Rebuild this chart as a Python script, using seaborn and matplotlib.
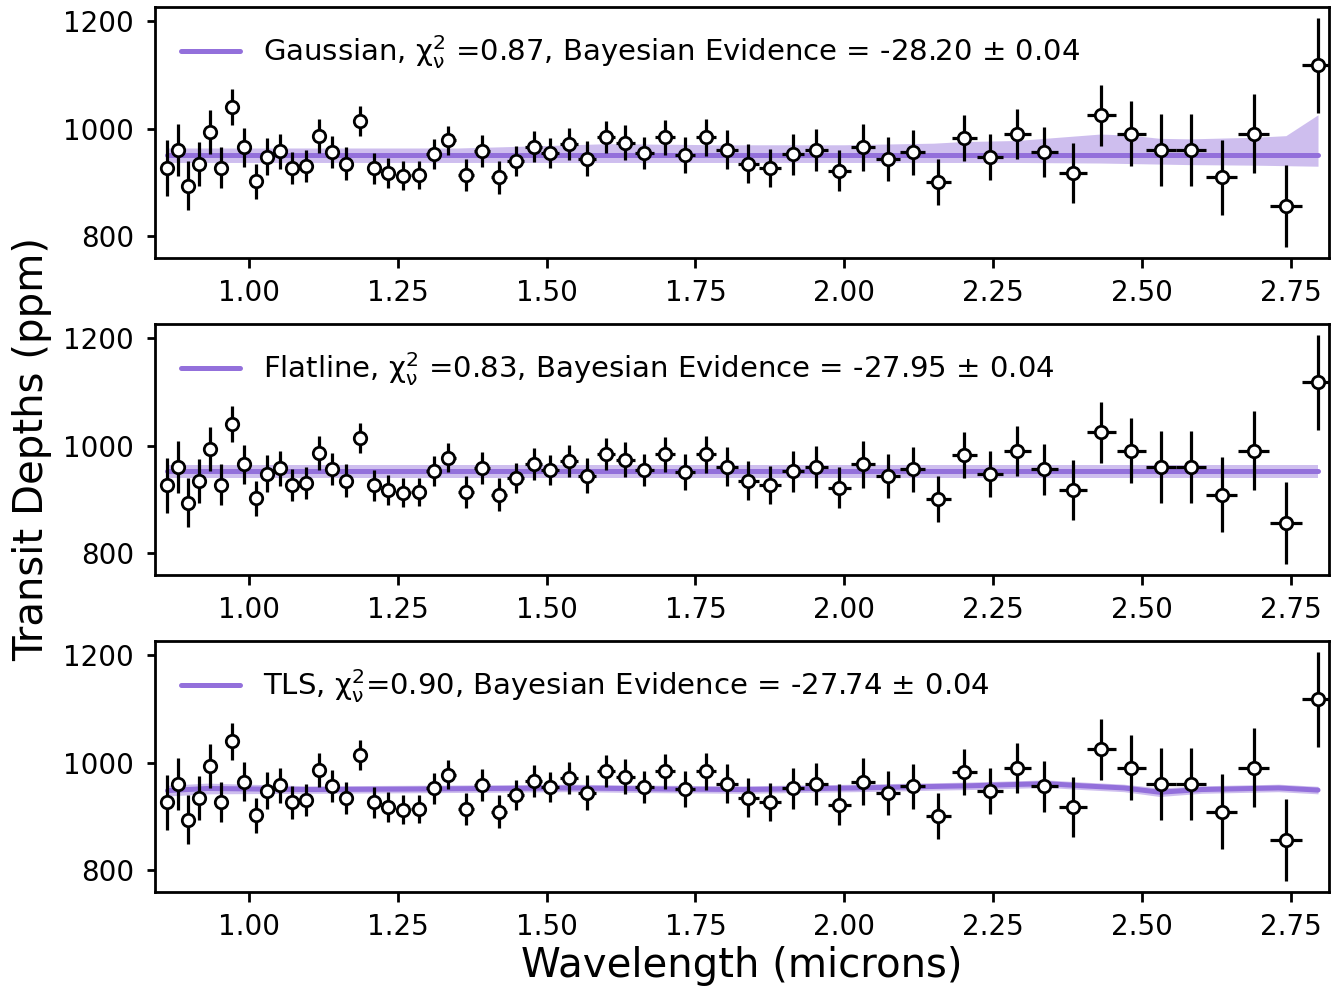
import numpy as np
import pandas as pd
import matplotlib
matplotlib.use("Agg")
import matplotlib.pyplot as plt
import seaborn as sns

# ---------------- data ----------------
wavelength = [0.863, 0.880, 0.898, 0.916, 0.934, 0.953, 0.972, 0.992, 1.012, 1.031,
              1.052, 1.073, 1.095, 1.118, 1.140, 1.163, 1.187, 1.210, 1.234, 1.259,
              1.285, 1.310, 1.335, 1.364, 1.392, 1.420, 1.448, 1.478, 1.506, 1.537,
              1.568, 1.600, 1.632, 1.664, 1.699, 1.733, 1.768, 1.803, 1.839, 1.876,
              1.914, 1.953, 1.992, 2.032, 2.073, 2.115, 2.158, 2.202, 2.245, 2.291,
              2.336, 2.384, 2.432, 2.482, 2.532, 2.582, 2.634, 2.688, 2.742, 2.796]
depth = [926, 960, 894, 935, 994, 927, 1040, 965, 902, 948,
         958, 926, 930, 986, 956, 935, 1015, 926, 917, 912,
         914, 952, 978, 914, 958, 909, 940, 966, 955, 972,
         944, 984, 974, 955, 984, 951, 984, 961, 935, 927,
         952, 960, 922, 965, 944, 956, 901, 983, 948, 990,
         956, 917, 1025, 991, 960, 960, 909, 991, 856, 1118]
depth_err = [52, 48, 45, 41, 41, 38, 34, 37, 33, 34,
             33, 30, 30, 32, 30, 30, 28, 29, 28, 27,
             26, 28, 27, 30, 30, 30, 28, 29, 28, 30,
             33, 30, 33, 30, 33, 33, 34, 36, 36, 35,
             39, 39, 39, 43, 41, 42, 43, 43, 43, 47,
             47, 56, 57, 60, 67, 67, 70, 74, 76, 88]
bin_halfwidth = [0.0085, 0.0086, 0.0088, 0.0090, 0.0092, 0.0093, 0.0095, 0.0097, 0.0099, 0.0101,
                 0.0103, 0.0105, 0.0107, 0.0110, 0.0112, 0.0114, 0.0116, 0.0119, 0.0121, 0.0123,
                 0.0126, 0.0128, 0.0131, 0.0134, 0.0136, 0.0139, 0.0142, 0.0145, 0.0148, 0.0151,
                 0.0154, 0.0157, 0.0160, 0.0163, 0.0167, 0.0170, 0.0173, 0.0177, 0.0180, 0.0184,
                 0.0188, 0.0191, 0.0195, 0.0199, 0.0203, 0.0207, 0.0212, 0.0216, 0.0220, 0.0225,
                 0.0229, 0.0234, 0.0238, 0.0243, 0.0248, 0.0253, 0.0258, 0.0264, 0.0269, 0.0274]

# Gaussian model
gauss_w = [0.863, 1.35, 1.45, 1.60, 1.80, 2.00, 2.15, 2.20, 2.29, 2.43, 2.48, 2.53, 2.58, 2.69, 2.742, 2.796]
gauss_mid = [951, 951, 951, 951, 951, 951, 951, 951, 951, 951, 951, 951, 951, 951, 951, 951]
gauss_hi = [964, 964, 967, 972, 970, 970, 973, 976, 978, 990, 988, 982, 981, 984, 987, 1026]
gauss_lo = [937, 937, 937, 937, 937, 937, 937, 937, 937, 936, 935, 934, 933, 932, 931, 930]

# Flatline model
flat_w = [0.863, 2.796]
flat_mid = [952, 952]
flat_hi = [964, 964]
flat_lo = [940, 940]

# TLS model
tls_w = [0.863, 0.93, 1.10, 1.28, 1.54, 1.70, 1.83, 2.02, 2.21, 2.34, 2.40, 2.47, 2.53, 2.60, 2.73, 2.796]
tls_mid = [948, 952, 950, 951, 953, 951, 950, 953, 957, 961, 957, 953, 945, 950, 953, 949]
tls_hi = [958, 962, 957, 958, 960, 958, 957, 960, 964, 968, 964, 960, 953, 957, 960, 956]
tls_lo = [938, 942, 943, 944, 946, 944, 943, 946, 950, 954, 950, 946, 937, 943, 946, 942]

labels = [
    r"Gaussian, $\chi^2_\nu$ =0.87, Bayesian Evidence = -28.20 $\pm$ 0.04",
    r"Flatline, $\chi^2_\nu$ =0.83, Bayesian Evidence = -27.95 $\pm$ 0.04",
    r"TLS, $\chi^2_\nu$=0.90, Bayesian Evidence = -27.74 $\pm$ 0.04",
]
x_ticks = [1.00, 1.25, 1.50, 1.75, 2.00, 2.25, 2.50, 2.75]
y_ticks = [800, 1000, 1200]

# ---------------- style ----------------
sns.set_theme(style="ticks")
plt.rcParams.update({
    "font.family": ["DejaVu Sans"],
    "mathtext.default": "regular",
    "axes.edgecolor": "black",
    "axes.linewidth": 2.0,
    "xtick.color": "black",
    "ytick.color": "black",
    "xtick.major.width": 2.0,
    "ytick.major.width": 2.0,
    "xtick.major.size": 7,
    "ytick.major.size": 6,
    "xtick.major.pad": 8,
    "ytick.major.pad": 9,
    "xtick.labelsize": 20,
    "ytick.labelsize": 20,
    "text.color": "black",
    "axes.labelcolor": "black",
})

purple = "mediumpurple"

data = pd.DataFrame({"wavelength": wavelength, "depth": depth,
                     "err": depth_err, "xerr": bin_halfwidth})
models = [
    pd.DataFrame({"w": gauss_w, "mid": gauss_mid, "hi": gauss_hi, "lo": gauss_lo}),
    pd.DataFrame({"w": flat_w, "mid": flat_mid, "hi": flat_hi, "lo": flat_lo}),
    pd.DataFrame({"w": tls_w, "mid": tls_mid, "hi": tls_hi, "lo": tls_lo}),
]

fig, axes = plt.subplots(3, 1, figsize=(13.36, 9.91), dpi=100)
fig.subplots_adjust(left=0.116, right=0.995, top=0.993, bottom=0.0999, hspace=0.263)

for ax, model, label in zip(axes, models, labels):
    ax.fill_between(model["w"], model["lo"], model["hi"], color=purple,
                    alpha=0.45, linewidth=0, zorder=1)
    sns.lineplot(data=model, x="w", y="mid", ax=ax, color=purple, lw=3.6,
                 label=label, zorder=2)
    ax.errorbar(data["wavelength"], data["depth"], yerr=data["err"], xerr=data["xerr"],
                fmt="none", ecolor="black", elinewidth=2.3, capsize=0, zorder=3)
    sns.scatterplot(data=data, x="wavelength", y="depth", ax=ax, marker="o", s=80,
                    facecolor="white", edgecolor="black", linewidth=2.0, zorder=4)
    ax.set_xlim(0.842, 2.815)
    ax.set_ylim(759, 1227)
    ax.set_xticks(x_ticks)
    ax.set_xticklabels([f"{t:.2f}" for t in x_ticks])
    ax.set_yticks(y_ticks)
    ax.set_xlabel("")
    ax.set_ylabel("")
    for sp in ax.spines.values():
        sp.set_visible(True)
        sp.set_linewidth(2.0)
        sp.set_color("black")
    ax.legend(loc="upper left", frameon=False, fontsize=21, handlelength=2.0)

axes[2].set_xlabel("Wavelength (microns)", fontsize=29, labelpad=4)
axes[1].set_ylabel("Transit Depths (ppm)", fontsize=29, labelpad=8)

fig.savefig("out.png", dpi=100)
